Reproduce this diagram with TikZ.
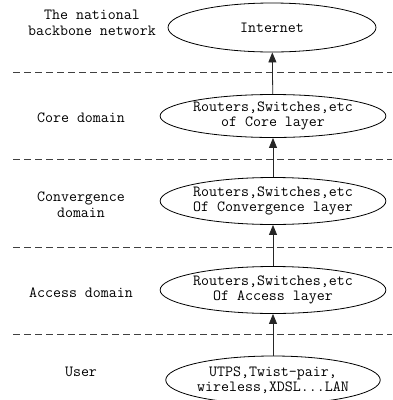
\documentclass[tikz,border=0pt]{standalone}
\usepackage{fontspec}
\usetikzlibrary{shapes.geometric, arrows.meta, positioning}

\tikzset{
    layer/.style={ellipse, draw, line width=0.8pt, inner sep=0pt, align=center,
        minimum width=210pt, minimum height=47pt,
        font=\ttfamily\fontsize{15.5}{15.5}\selectfont},
    domainlabel/.style={align=center, font=\ttfamily\fontsize{15.5}{16}\selectfont},
    uplink/.style={-{Triangle[length=10pt, width=8pt]}, line width=0.8pt, draw=black!85},
    border/.style={dash pattern=on 7pt off 4pt, line width=0.8pt, draw=black!75},
}

\begin{document}
\begin{tikzpicture}[x=1pt, y=-1pt]
        \useasboundingbox (0,0) rectangle (392,400);

        % layers
        \node[layer, minimum width=208pt, minimum height=49pt] (internet) at (272,27.5) {Internet};
        \node[layer, minimum height=43pt] (core) at (273,116) {Routers,Switches,etc\\of Core layer};
        \node[layer] (conv) at (273,201) {Routers,Switches,etc\\Of Convergence layer};
        \node[layer] (access) at (273,290) {Routers,Switches,etc\\Of Access layer};
        \node[layer, minimum height=48pt] (user) at (273,380) {UTPS,Twist-pair,\\wireless,XDSL...LAN};

        % domains
        \node[domainlabel] (backbone) at (92,23) {The national\\backbone network};
        \node[domainlabel] (coredom) at (81,118) {Core domain};
        \node[domainlabel] (convdom) at (81,205) {Convergence\\domain};
        \node[domainlabel] (accessdom) at (81,293) {Access domain};
        \node[domainlabel] (userdom) at (81,372) {User};

        % borders between domains
        \foreach \y in {72,159,247,334}
            \draw[border] (13,\y) -- (392,\y);

        \draw[uplink] (user) -- (access);
        \draw[uplink] (access) -- (conv);
        \draw[uplink] (conv) -- (core);
        \draw[uplink] (core) -- (internet);
    \end{tikzpicture}
\end{document}
